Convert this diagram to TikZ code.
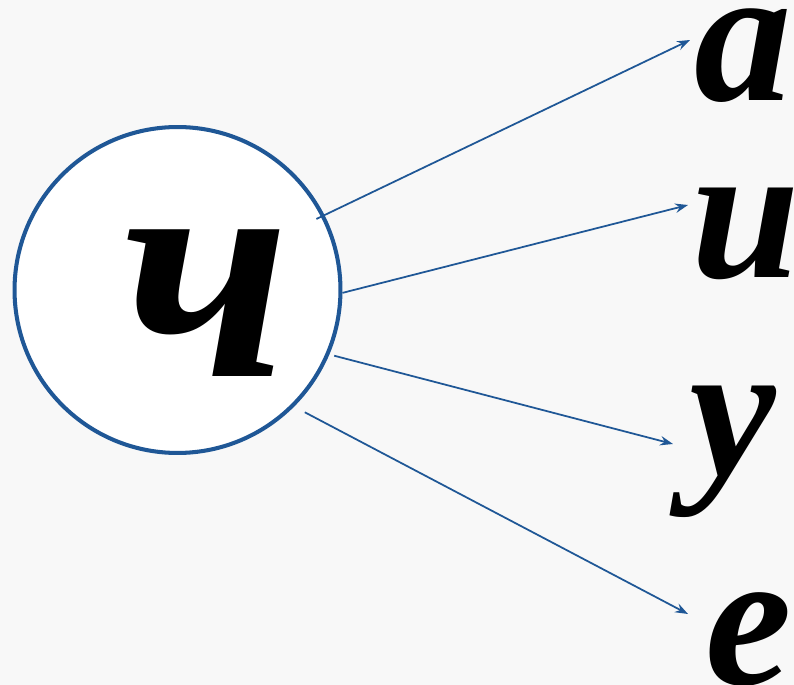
\documentclass[tikz,border=0pt]{standalone}
\usepackage{fontspec}
\setmainfont{Liberation Serif}
\usetikzlibrary{arrows.meta}
\definecolor{ringblue}{RGB}{31,87,150}
\definecolor{bgpaper}{RGB}{248,248,248}
\begin{document}
\begin{tikzpicture}[x=0.02cm,y=-0.02cm,line width=1pt,
  >={Stealth[length=2.6mm,width=1.9mm,inset=0.9mm]},
  ring/.style={circle,draw=ringblue,line width=2.3pt,fill=white,minimum size=6.52cm,inner sep=0pt},
  letter/.style={inner sep=0pt,font=\bfseries\itshape\fontsize{111}{111}\selectfont},
  bigletter/.style={inner sep=0pt,font=\bfseries\itshape\fontsize{182}{182}\selectfont},
  ray/.style={->,ringblue}]
  \fill[bgpaper] (0,0) rectangle (794,685);
  \useasboundingbox (0,0) rectangle (794,685);
  \node[ring] (ring) at (177.5,290) {};
  \node[bigletter] (ch) at (206,303) {ч};
  % vowels
  \node[letter] (a) at (743,56) {а};
  \node[letter] (i) at (746,234) {и};
  \node[letter] (u) at (733,452) {у};
  \node[letter] (e) at (749,640) {е};
  % arrow tips
  \coordinate (ta) at (690,40);
  \coordinate (ti) at (688,205);
  \coordinate (tu) at (673,444);
  \coordinate (te) at (688,614);
  \draw[ray,shorten <=-1.8mm] (ring.27.5) -- (ta);
  \draw[ray] (ring.-1) -- (ti);
  \draw[ray,shorten <=1mm] (ring.-23) -- (tu);
  \draw[ray,shorten <=2.4mm] (ring.-45.8) -- (te);
\end{tikzpicture}
\end{document}
